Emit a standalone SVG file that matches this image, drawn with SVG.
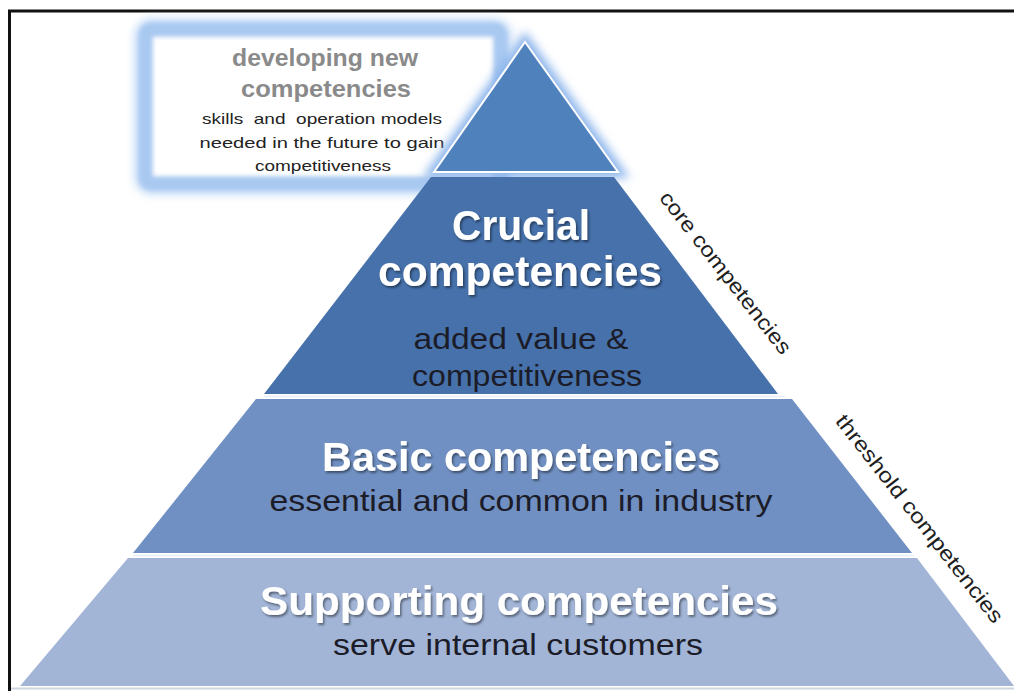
<svg xmlns="http://www.w3.org/2000/svg" width="1014" height="691" viewBox="0 0 1014 691">
  <style>
    .head { font-family: "Liberation Sans", Arial, sans-serif; font-weight: 700; fill: #ffffff; text-anchor: middle; }
    .sub { font-family: "Liberation Sans", Arial, sans-serif; fill: #1c1c28; text-anchor: middle; }
    .side { font-family: "Liberation Sans", Arial, sans-serif; fill: #1e1e1e; text-anchor: middle; font-size: 21px; }
    .boxhead { font-family: "Liberation Sans", Arial, sans-serif; font-weight: 700; fill: #8a8a8a; text-anchor: middle; font-size: 24px; }
    .boxtxt { font-family: "Liberation Sans", Arial, sans-serif; fill: #222222; text-anchor: middle; font-size: 15px; }
    .sep { stroke: #e8eef8; stroke-width: 1.5; }
  </style>
  <defs>
    <filter id="glow" x="-20%" y="-20%" width="140%" height="140%">
      <feGaussianBlur stdDeviation="5"/>
    </filter>
    <filter id="soft" x="-10%" y="-10%" width="120%" height="120%">
      <feGaussianBlur stdDeviation="2.2"/>
    </filter>
    <filter id="shadow" x="-10%" y="-20%" width="120%" height="150%">
      <feDropShadow dx="1.5" dy="2" stdDeviation="1.2" flood-color="#000000" flood-opacity="0.45"/>
    </filter>
  </defs>

  <rect x="0" y="0" width="1014" height="691" fill="#ffffff"/>

  <!-- frame -->
  <path d="M 9.5 691 V 11 H 1014" fill="none" stroke="#111111" stroke-width="3"/>
  <line x1="11" y1="688.5" x2="1014" y2="688.5" stroke="#cfd5e0" stroke-width="2"/>

  <!-- developing new competencies box -->
  <g id="developing">
    <rect x="146" y="30" width="354" height="153" rx="6" fill="none" stroke="#bcd6f6" stroke-width="22" filter="url(#glow)"/>
    <rect x="146" y="30" width="354" height="153" rx="5" fill="#ffffff" stroke="#a9c9f1" stroke-width="14" filter="url(#soft)"/>
    <text class="boxhead" x="325" y="66" textLength="186" lengthAdjust="spacingAndGlyphs">developing new</text>
    <text class="boxhead" x="326" y="97" textLength="170" lengthAdjust="spacingAndGlyphs">competencies</text>
    <text class="boxtxt" x="322" y="124" textLength="240" lengthAdjust="spacingAndGlyphs" xml:space="preserve">skills  and  operation models</text>
    <text class="boxtxt" x="322" y="148" textLength="245" lengthAdjust="spacingAndGlyphs">needed in the future to gain</text>
    <text class="boxtxt" x="323" y="171" textLength="136" lengthAdjust="spacingAndGlyphs">competitiveness</text>
  </g>

  <!-- top triangle -->
  <g id="top">
    <polygon points="525,40 620,173 432,173" fill="#8db6ec" stroke="#8db6ec" stroke-width="10" filter="url(#glow)"/>
    <polygon points="525,42 618,172 434,172" fill="#4f81bd" stroke="#ffffff" stroke-width="2"/>
  </g>

  <!-- crucial -->
  <g id="crucial">
    <polygon points="431,177 614,177 778,394 264,394" fill="#4671ab"/>
    <text class="head" x="521" y="240" font-size="42" filter="url(#shadow)" textLength="138" lengthAdjust="spacingAndGlyphs">Crucial</text>
    <text class="head" x="520" y="286" font-size="42" filter="url(#shadow)" textLength="284" lengthAdjust="spacingAndGlyphs">competencies</text>
    <text class="sub" x="521" y="349" font-size="30" textLength="215" lengthAdjust="spacingAndGlyphs">added value &amp;</text>
    <text class="sub" x="527" y="386" font-size="30" textLength="230" lengthAdjust="spacingAndGlyphs">competitiveness</text>
  </g>

  <!-- basic -->
  <g id="basic">
    <polygon points="256,399 792,399 912,553 133,553" fill="#7090c3"/>
    <text class="head" x="521" y="471" font-size="41" filter="url(#shadow)" textLength="398" lengthAdjust="spacingAndGlyphs">Basic competencies</text>
    <text class="sub" x="521" y="511" font-size="30" textLength="503" lengthAdjust="spacingAndGlyphs">essential and common in industry</text>
  </g>

  <!-- supporting -->
  <g id="supporting">
    <polygon points="128,558 917,558 1014,686 20,686" fill="#a2b5d7"/>
    <text class="head" x="519" y="615" font-size="41" filter="url(#shadow)" textLength="518" lengthAdjust="spacingAndGlyphs">Supporting competencies</text>
    <text class="sub" x="518" y="655" font-size="29" textLength="370" lengthAdjust="spacingAndGlyphs">serve internal customers</text>
  </g>

  <!-- tier separator highlights (no connectors in this picture) -->
  <g id="separators">
    <line class="sep" x1="264" y1="396.5" x2="785" y2="396.5"/>
    <line class="sep" x1="133" y1="555.5" x2="914" y2="555.5"/>
  </g>

  <!-- side labels -->
  <g id="core-label">
    <text class="side" transform="translate(720,277) rotate(52)" x="0" y="0" textLength="200" lengthAdjust="spacingAndGlyphs">core competencies</text>
  </g>
  <g id="threshold-label">
    <text class="side" transform="translate(914,523) rotate(52)" x="0" y="0" textLength="258" lengthAdjust="spacingAndGlyphs">threshold competencies</text>
  </g>
</svg>
